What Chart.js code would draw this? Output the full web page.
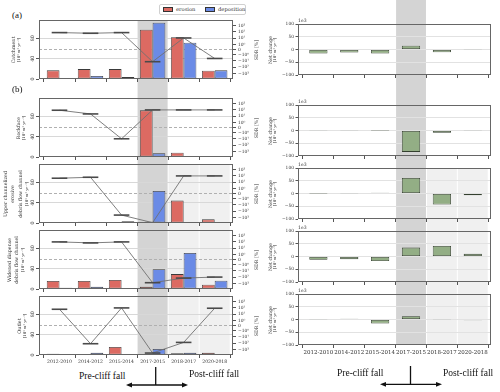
<!DOCTYPE html>
<html>
<head>
<meta charset="utf-8">
<script src="https://cdn.jsdelivr.net/npm/chart.js@4.4.1/dist/chart.umd.min.js"></script>
<style>
body{margin:0;background:#fff;}
#fig{position:relative;width:500px;height:392px;overflow:hidden;font-family:"DejaVu Serif",serif;color:#222;}
.pan{position:absolute;}
.vt{position:absolute;transform:translate(-50%,-50%) rotate(-90deg);white-space:nowrap;line-height:1;color:#333;}
.t1{font-size:4.8px;}
.t2{font-size:3.8px;}
.big{position:absolute;font-family:"Liberation Serif",serif;font-size:9.5px;line-height:1;white-space:nowrap;color:#111;}
#legend{position:absolute;left:159px;top:4px;width:85px;height:9px;border:1px solid #d0d0d0;border-radius:2px;font-size:5.2px;line-height:9px;color:#333;}
#legend span{position:absolute;}
#legend i{position:absolute;top:2px;width:10px;height:5px;border:0.6px solid #333;box-sizing:border-box;}
</style>
</head>
<body>
<div id="fig">
  <div class="pan" style="left:0;top:20px"><canvas id="l1" width="262" height="78"></canvas></div>
  <div class="pan" style="left:0;top:98px"><canvas id="l2" width="262" height="66"></canvas></div>
  <div class="pan" style="left:0;top:164px"><canvas id="l3" width="262" height="66"></canvas></div>
  <div class="pan" style="left:0;top:230px"><canvas id="l4" width="262" height="66"></canvas></div>
  <div class="pan" style="left:0;top:296px"><canvas id="l5" width="262" height="73"></canvas></div>

  <div class="pan" style="left:262px;top:0"><canvas id="r1" width="238" height="99"></canvas></div>
  <div class="pan" style="left:262px;top:99px"><canvas id="r2" width="238" height="63"></canvas></div>
  <div class="pan" style="left:262px;top:162px"><canvas id="r3" width="238" height="63"></canvas></div>
  <div class="pan" style="left:262px;top:225px"><canvas id="r4" width="238" height="63"></canvas></div>
  <div class="pan" style="left:262px;top:288px"><canvas id="r5" width="238" height="71"></canvas></div>

  <!-- axis titles, left column -->
  <div class="vt t1" style="left:14.3px;top:49.5px">Catchment</div>
  <div class="vt t2" style="left:19.3px;top:49.5px">[10³ m³ yr⁻¹]</div>
  <div class="vt t1" style="left:18.5px;top:127.5px">Rockface</div>
  <div class="vt t2" style="left:23.5px;top:127.5px">[10³ m³ yr⁻¹]</div>
  <div class="vt t1" style="left:6px;top:194px">Upper channelized</div>
  <div class="vt t1" style="left:13.3px;top:194px">erosive</div>
  <div class="vt t1" style="left:20.5px;top:194px">debris flow channel</div>
  <div class="vt t2" style="left:26.7px;top:194px">[10³ m³ yr⁻¹]</div>
  <div class="vt t1" style="left:10px;top:260px">Widened dispense</div>
  <div class="vt t1" style="left:16.5px;top:260px">debris flow channel</div>
  <div class="vt t2" style="left:23px;top:260px">[10³ m³ yr⁻¹]</div>
  <div class="vt t1" style="left:19.5px;top:326px">Outlet</div>
  <div class="vt t2" style="left:25px;top:326px">[10³ m³ yr⁻¹]</div>

  <div class="vt t1" style="left:256.5px;top:49.5px">SDR [%]</div>
  <div class="vt t1" style="left:256.5px;top:127.5px">SDR [%]</div>
  <div class="vt t1" style="left:256.5px;top:194px">SDR [%]</div>
  <div class="vt t1" style="left:256.5px;top:260px">SDR [%]</div>
  <div class="vt t1" style="left:256.5px;top:326px">SDR [%]</div>

  <!-- axis titles, right column -->
  <div class="vt t1" style="left:271px;top:49.5px">Net change</div>
  <div class="vt t2" style="left:275px;top:49.5px">[10³ m³ yr⁻¹]</div>
  <div class="vt t1" style="left:271px;top:130.5px">Net change</div>
  <div class="vt t2" style="left:275px;top:130.5px">[10³ m³ yr⁻¹]</div>
  <div class="vt t1" style="left:271px;top:193.5px">Net change</div>
  <div class="vt t2" style="left:275px;top:193.5px">[10³ m³ yr⁻¹]</div>
  <div class="vt t1" style="left:271px;top:256.5px">Net change</div>
  <div class="vt t2" style="left:275px;top:256.5px">[10³ m³ yr⁻¹]</div>
  <div class="vt t1" style="left:271px;top:319.5px">Net change</div>
  <div class="vt t2" style="left:275px;top:319.5px">[10³ m³ yr⁻¹]</div>

  <div id="legend">
    <i style="left:3px;background:#dc6a62"></i><span style="left:16px">erosion</span>
    <i style="left:45px;background:#6b8be6"></i><span style="left:58px">deposition</span>
  </div>

  <div class="big" style="left:12px;top:10.5px;font-size:9px">(a)</div>
  <div class="big" style="left:12px;top:84.5px;font-size:9px">(b)</div>

  <div class="big" style="left:79px;top:372px">Pre-cliff fall</div>
  <div class="big" style="left:189px;top:370px">Post-cliff fall</div>
  <div class="big" style="left:337px;top:369px">Pre-cliff fall</div>
  <div class="big" style="left:443px;top:369px">Post-cliff fall</div>

  <svg width="500" height="392" style="position:absolute;left:0;top:0;pointer-events:none">
    <g stroke="#111" stroke-width="1.3" fill="#111">
      <line x1="155.7" y1="367" x2="155.7" y2="385"/>
      <line x1="131" y1="385" x2="183" y2="385"/>
      <polygon points="126,385 132,382.6 132,387.4" stroke="none"/>
      <polygon points="188,385 182,382.6 182,387.4" stroke="none"/>
      <line x1="410.5" y1="366" x2="410.5" y2="384.3"/>
      <line x1="385" y1="384.3" x2="437" y2="384.3"/>
      <polygon points="380,384.3 386,381.9 386,386.7" stroke="none"/>
      <polygon points="442,384.3 436,381.9 436,386.7" stroke="none"/>
    </g>
  </svg>
</div>

<script>
// periods on the x axis
const periods = ['2012-2010', '2014-2012', '2015-2014', '2017-2015', '2018-2017', '2020-2018'];

// erosion / deposition volumes [10^3 m3 yr-1]
const catchmentErosion    = [17, 19.5, 19.5, 97, 82, 16.3];
const catchmentDeposition = [2, 6, 4, 110.6, 71.5, 17];
const rockfaceErosion     = [1.3, 2.6, 2, 91.7, 8.5, 1.3];
const rockfaceDeposition  = [0.3, 2, 2, 7.2, 0, 0.3];
const upperErosion        = [0.6, 2.6, 0.6, 2, 44, 7.2];
const upperDeposition     = [0.5, 1.3, 3.2, 63, 0.5, 0.5];
const widenedErosion      = [15.6, 15.6, 17.6, 4.6, 29.3, 8.5];
const widenedDeposition   = [2.6, 4.6, 0.3, 39, 71, 16.3];
const outletErosion       = [2.6, 2, 15.6, 0.3, 3.3, 4.6];
const outletDeposition    = [1.3, 4.6, 0, 11.7, 4.6, 1.3];

// SDR [%] (symlog axis)
const catchmentSdr = [78, 61, 78, -14, 11, -4.3];
const rockfaceSdr  = [89, 23, -10, 100, 100, 100];
const upperSdr     = [43, 61, -430, -6900, 100, 100];
const widenedSdr   = [100, 70, 100, -780, -144, -100];
const outletSdr    = [61, -126, 100, -3800, -78, 89];

// net change [10^3 m3 yr-1]
const catchmentNet = [-15.8, -12, -16, 14.5, -10.5, 0.7];
const rockfaceNet  = [-0.8, -0.6, 0.4, -84, -9, -1];
const upperNet     = [-0.2, -1.3, 2.6, 61, -43, -6.8];
const widenedNet   = [-13, -10.4, -18, 35, 41.6, 10.4];
const outletNet    = [-1.3, 2.6, -15.7, 13, 1.3, -3.3];

// tick values
const volumeTicks = [0, 40, 80];
const netTicks = [-100, -50, 0, 50, 100];
const sdrTicks = [-1000, -100, -10, -1, 0, 1, 10, 100, 1000];
const sdrLabels = ['−10³', '−10²', '−10¹', '−10⁰', '0', '10⁰', '10¹', '10²', '10³'];

Chart.defaults.font.family = 'DejaVu Serif';
Chart.defaults.color = '#333';

const LIN = 0.79; // linear part of the symlog axis
function symlog(v) {
  const a = Math.abs(v);
  const t = a <= 1 ? a * LIN : LIN + Math.log10(a);
  return v < 0 ? -t : t;
}

// grey period bands + frame + offset text
const decor = {
  id: 'decor',
  beforeDraw(chart, args, o) {
    const ctx = chart.ctx, a = chart.chartArea, x = chart.scales.x;
    const bottom = o.toBottom ? chart.height : a.bottom;
    const band = (i, col, top) => {
      const l = Math.max(a.left, x.getPixelForValue(i - 0.5) + 0.5);
      const r = Math.min(a.right, x.getPixelForValue(i + 0.5) - 0.5);
      ctx.fillStyle = col;
      ctx.fillRect(l, top, r - l, bottom - top);
    };
    ctx.save();
    (o.light || []).forEach(i => band(i, '#f0f0f0', o.lightFromTop ? 0 : a.top));
    band(3, '#d4d4d4', o.fromTop ? 0 : a.top);
    ctx.restore();
  },
  afterDraw(chart, args, o) {
    const ctx = chart.ctx, a = chart.chartArea;
    ctx.save();
    ctx.strokeStyle = '#666';
    ctx.lineWidth = 1;
    ctx.strokeRect(a.left + 0.5, a.top + 0.5, a.width - 1, a.height - 1);
    if (o.offsetText) {
      ctx.fillStyle = '#333';
      ctx.font = '4.6px "DejaVu Serif"';
      ctx.textBaseline = 'bottom';
      ctx.fillText(o.offsetText, a.left, a.top - 0.5);
    }
    ctx.restore();
  }
};

function xScale(h, showLabels, size) {
  return {
    type: 'linear', min: -0.66, max: 5.59, offset: false,
    grid: {drawOnChartArea: false, drawTicks: true, tickLength: 3, tickColor: '#555'},
    border: {display: false},
    ticks: {display: showLabels, autoSkip: false, minRotation: 0, maxRotation: 0, padding: 1,
      font: {size: size}, color: '#333', callback: v => periods[v]},
    afterBuildTicks: s => { s.ticks = periods.map((p, i) => ({value: i})); },
    afterFit: s => { s.height = h; s.paddingLeft = 0; s.paddingRight = 0; }
  };
}

function leftPanel(id, ero, dep, sdr, cfg) {
  return new Chart(document.getElementById(id), {
    type: 'bar',
    data: {
      datasets: [
        {type: 'line', label: 'SDR', yAxisID: 'y1', order: 0,
          data: sdr.map((v, i) => ({x: i, y: symlog(v)})),
          borderColor: '#707070', borderWidth: 0.9, tension: 0,
          pointStyle: 'line', pointRadius: 7.8, pointHoverRadius: 7.8,
          pointBorderWidth: 1.6, pointBorderColor: '#4a4a4a'},
        {label: 'erosion', yAxisID: 'y', order: 1,
          data: ero.map((v, i) => ({x: i, y: v})),
          backgroundColor: '#dc6a62', borderColor: '#3a3a3a', borderWidth: 0.8, borderSkipped: false,
          categoryPercentage: 0.82, barPercentage: 1},
        {label: 'deposition', yAxisID: 'y', order: 1,
          data: dep.map((v, i) => ({x: i, y: v})),
          backgroundColor: '#6b8be6', borderColor: '#3a3a3a', borderWidth: 0.8, borderSkipped: false,
          categoryPercentage: 0.82, barPercentage: 1}
      ]
    },
    options: {
      responsive: false, animation: false,
      layout: {padding: 0, autoPadding: false},
      plugins: {legend: {display: false}, tooltip: {enabled: false},
        decor: {light: cfg.light, toBottom: cfg.toBottom}},
      scales: {
        x: xScale(cfg.xh, cfg.labels, 4.6),
        y: {
          min: 0, max: 116,
          afterBuildTicks: s => { s.ticks = volumeTicks.map(v => ({value: v})); },
          ticks: {font: {size: 4.8}, minRotation: 90, maxRotation: 90, crossAlign: 'center', padding: 0.5},
          grid: {color: c => (c.tick && c.tick.value === 0) ? 'rgba(0,0,0,0)' : '#d8d8d8',
            tickLength: 3, tickColor: '#555'},
          border: {display: false},
          afterFit: s => { s.width = 39; s.paddingTop = 0; s.paddingBottom = 0; }
        },
        y1: {
          position: 'right', min: -4.68, max: 4.68,
          afterBuildTicks: s => { s.ticks = sdrTicks.map(v => ({value: symlog(v)})); },
          ticks: {font: {size: 4.4}, autoSkip: false, padding: 2,
            callback: (v, i) => sdrLabels[i]},
          grid: {color: c => (c.tick && Math.abs(c.tick.value) < 1e-9) ? '#b0b0b0' : 'rgba(0,0,0,0)',
            lineWidth: 1, tickLength: 3, tickColor: '#555'},
          border: {display: false, dash: [3, 2]},
          afterFit: s => { s.width = 29; s.paddingTop = 0; s.paddingBottom = 0; }
        }
      }
    },
    plugins: [decor]
  });
}

function netPanel(id, net, cfg) {
  return new Chart(document.getElementById(id), {
    type: 'bar',
    data: {
      datasets: [{label: 'net change',
        data: net.map((v, i) => ({x: i, y: v})),
        backgroundColor: '#93ae85', borderColor: '#34402f', borderWidth: 0.8, borderSkipped: false,
        categoryPercentage: 0.59, barPercentage: 1}]
    },
    options: {
      responsive: false, animation: false,
      layout: {padding: {top: cfg.padTop, right: 9, left: 0, bottom: 0}, autoPadding: false},
      plugins: {legend: {display: false}, tooltip: {enabled: false},
        decor: {light: cfg.light, toBottom: cfg.toBottom, fromTop: true,
          lightFromTop: cfg.lightFromTop, offsetText: '1e3'}},
      scales: {
        x: xScale(cfg.xh, cfg.labels, 5.5),
        y: {
          min: -100, max: 100,
          afterBuildTicks: s => { s.ticks = netTicks.map(v => ({value: v})); },
          ticks: {font: {size: 4.4}, padding: 1.5, autoSkip: false,
            callback: v => v < 0 ? '−' + Math.abs(v) : String(v)},
          grid: {color: c => (c.tick && Math.abs(c.tick.value) === 100) ? 'rgba(0,0,0,0)' : '#e2e2e2',
            tickLength: 2.5, tickColor: '#555'},
          border: {display: false},
          afterFit: s => { s.width = 36; s.paddingTop = 0; s.paddingBottom = 0; }
        }
      }
    },
    plugins: [decor]
  });
}

leftPanel('l1', catchmentErosion, catchmentDeposition, catchmentSdr, {xh: 19, labels: false, toBottom: true});
leftPanel('l2', rockfaceErosion, rockfaceDeposition, rockfaceSdr, {xh: 7, labels: false, toBottom: true});
leftPanel('l3', upperErosion, upperDeposition, upperSdr, {xh: 7, labels: false, toBottom: true, light: [4, 5]});
leftPanel('l4', widenedErosion, widenedDeposition, widenedSdr, {xh: 7, labels: false, toBottom: true, light: [4, 5]});
leftPanel('l5', outletErosion, outletDeposition, outletSdr, {xh: 14, labels: true, toBottom: false, light: [4, 5]});

netPanel('r1', catchmentNet, {xh: 24, padTop: 24, labels: false, toBottom: true});
netPanel('r2', rockfaceNet, {xh: 6, padTop: 6, labels: false, toBottom: true});
netPanel('r3', upperNet, {xh: 6, padTop: 6, labels: false, toBottom: true, light: [4, 5]});
netPanel('r4', widenedNet, {xh: 6, padTop: 6, labels: false, toBottom: true, light: [4, 5], lightFromTop: true});
netPanel('r5', outletNet, {xh: 14, padTop: 6, labels: true, toBottom: false, light: [4, 5], lightFromTop: true});
</script>
</body>
</html>
